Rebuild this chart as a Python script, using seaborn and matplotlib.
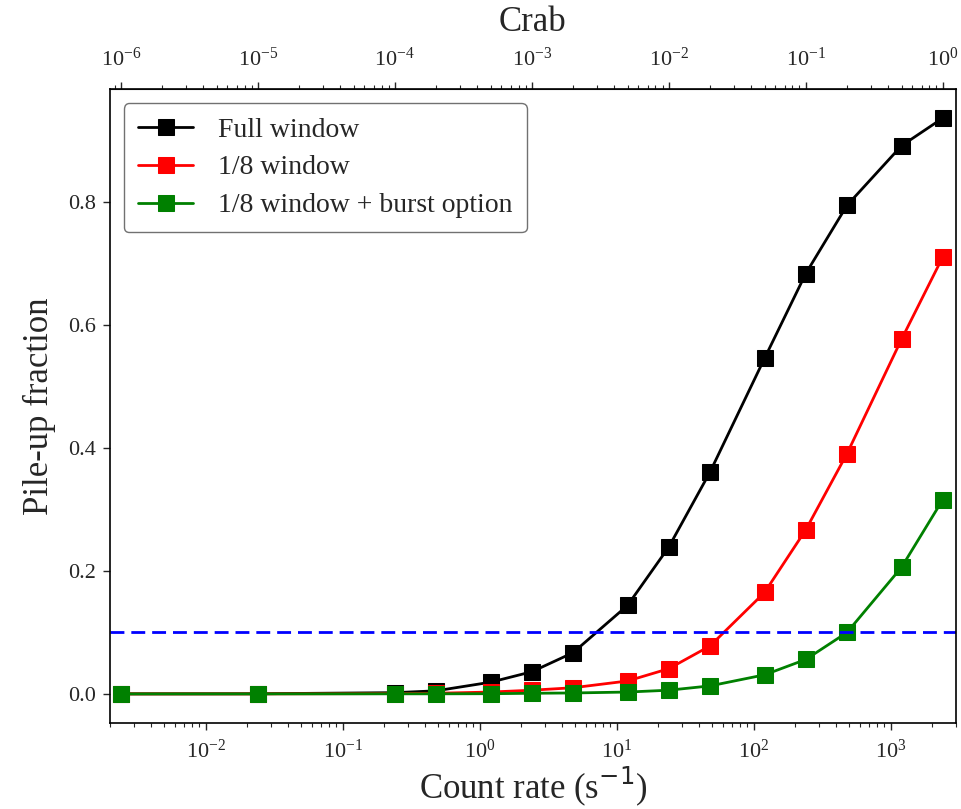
import numpy as np
import pandas as pd
import matplotlib
matplotlib.use("Agg")
import matplotlib.pyplot as plt
import matplotlib.ticker as mticker
import seaborn as sns

# ---- data ----
crab_frac = [1e-6, 1e-5, 1e-4, 2e-4, 5e-4, 1e-3, 2e-3, 5e-3, 1e-2, 2e-2, 5e-2, 0.1, 0.2, 0.5, 1.0]
crab_rate = 2400.0  # counts/s for 1 Crab
full_window = [0.0, 0.0002, 0.002, 0.005, 0.019, 0.036, 0.067, 0.144, 0.239, 0.361, 0.546, 0.684, 0.795, 0.892, 0.937]
eighth_window = [0.0, 0.0, 0.0005, 0.001, 0.003, 0.006, 0.010, 0.021, 0.041, 0.078, 0.165, 0.267, 0.391, 0.577, 0.711]
eighth_burst = [0.0, 0.0, 0.0001, 0.0001, 0.0003, 0.001, 0.0015, 0.003, 0.006, 0.013, 0.031, 0.056, 0.100, 0.206, 0.316]
series_names = ["Full window", "1/8 window", "1/8 window + burst option"]
series_colors = ["black", "red", "green"]
threshold = 0.1
xlim_rate = (0.002, 3000)

sns.set_style("ticks")
plt.rcParams['font.family'] = ['Liberation Serif', 'DejaVu Serif']
plt.rcParams['mathtext.fontset'] = 'stix'
plt.rcParams['xtick.direction'] = 'out'
plt.rcParams['ytick.direction'] = 'out'

count_rate = [c * crab_rate for c in crab_frac]
frames = []
for name, vals in zip(series_names, [full_window, eighth_window, eighth_burst]):
    frames.append(pd.DataFrame({"rate": count_rate, "pileup": vals, "mode": name}))
df = pd.concat(frames, ignore_index=True)

fig = plt.figure(figsize=(9.62, 8.09), dpi=100)
ax = fig.add_axes([0.1143, 0.1067, 0.8795, 0.7829])

for name, col in zip(series_names, series_colors):
    sub = df[df["mode"] == name]
    sns.lineplot(data=sub, x="rate", y="pileup", ax=ax, color=col, marker="s",
                 markersize=12, markeredgecolor=col, markerfacecolor=col,
                 linewidth=2, label=name)

ax.axhline(threshold, color="blue", linestyle=(0, (5, 2.5)), linewidth=2)

ax.set_xscale("log")
ax.set_xlim(*xlim_rate)
ax.xaxis.set_minor_formatter(mticker.NullFormatter())
ax.set_xlabel("Count rate (s$^{-1}$)", fontsize=25, labelpad=1)
ax.set_ylabel("Pile-up fraction", fontsize=25, labelpad=9)
ax.tick_params(axis="y", which="major", labelsize=16, length=5, width=1, pad=5)
ax.tick_params(axis="x", which="major", labelsize=16, length=5, width=1, pad=7)
ax.tick_params(axis="x", which="minor", length=3, width=0.8)
ax.set_yticks([0.0, 0.2, 0.4, 0.6, 0.8])
for s in ax.spines.values():
    s.set_linewidth(1.2)
    s.set_color("black")

top = ax.secondary_xaxis("top", functions=(lambda x: x / crab_rate, lambda x: x * crab_rate))
top.xaxis.set_minor_formatter(mticker.NullFormatter())
top.set_xlabel("Crab", fontsize=25, labelpad=12)
top.tick_params(axis="x", which="major", labelsize=16, length=5, width=1, pad=8)
top.tick_params(axis="x", which="minor", length=3, width=0.8)

leg = ax.legend(loc="upper left", fontsize=20, frameon=True, handlelength=2.0,
                borderpad=0.5, labelspacing=0.45, handletextpad=0.9)
leg.get_frame().set_edgecolor("0.3")

xl = ax.xaxis.get_label()
xl.set_math_fontfamily('dejavusans')

fig.savefig("out.png", dpi=100, facecolor="white")
